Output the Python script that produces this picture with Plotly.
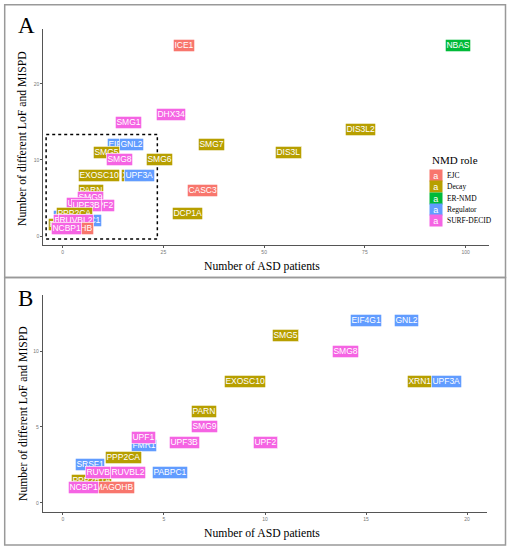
import plotly.graph_objects as go

# genes, NMD role, number of ASD patients, number of different LoF and MISPD
genes = ["ICE1", "NBAS", "DHX34", "SMG1", "SMG7", "DIS3L2", "DIS3L", "CASC3", "DCP1A", "SMG6",
         "EIF4G1", "GNL2", "SMG5", "SMG8", "EXOSC10", "XRN1", "UPF3A", "PARN", "SMG9",
         "FMR1", "UPF1", "UPF2", "UPF3B", "SRSF1", "PPP2CA", "PABPC1", "PPP2R1A",
         "RUVBL1", "RUVBL2", "MAGOHB", "NCBP1"]
roles = ["EJC", "ER-NMD", "SURF-DECID", "SURF-DECID", "Decay", "Decay", "Decay", "EJC", "Decay", "Decay",
         "Regulator", "Regulator", "Decay", "SURF-DECID", "Decay", "Decay", "Regulator", "Decay", "SURF-DECID",
         "Regulator", "SURF-DECID", "SURF-DECID", "SURF-DECID", "Regulator", "Decay", "Regulator", "Decay",
         "SURF-DECID", "SURF-DECID", "EJC", "SURF-DECID"]
patients = [30, 98, 27, 16.3, 37, 74, 56, 34.6, 31, 24,
            15, 17, 11, 14, 9, 17.65, 19, 7, 7,
            4, 4, 10, 6, 1.32, 3, 5.31, 1.39,
            2, 3.2, 2.57, 1]
variants = [25, 25, 16, 14.9, 12, 14, 11, 6, 3, 10,
            12, 12, 11, 10, 8, 8, 8, 6, 5,
            3.78, 4.29, 4, 4, 2.53, 3, 2, 1.5,
            2, 2, 1, 1]

role_names = ["EJC", "Decay", "ER-NMD", "Regulator", "SURF-DECID"]
role_colors = {"EJC": "#F8766D", "Decay": "#B79F00", "ER-NMD": "#00BA38",
               "Regulator": "#619CFF", "SURF-DECID": "#F564E3"}

W, H = 511, 550
def px(x):
    return x / W
def py(y):
    return 1 - y / H

serif = "Liberation Serif"
sans = "Liberation Sans"

fig = go.Figure()
fig.add_trace(go.Scatter(x=patients, y=variants, mode="markers", marker=dict(opacity=0),
                         text=genes, hoverinfo="text", xaxis="x", yaxis="y"))
bx = [p for p, v in zip(patients, variants) if p <= 20.5 and v <= 13.5]
by = [v for p, v in zip(patients, variants) if p <= 20.5 and v <= 13.5]
fig.add_trace(go.Scatter(x=bx, y=by, mode="markers", marker=dict(opacity=0),
                         hoverinfo="skip", xaxis="x2", yaxis="y2"))

ann = []
def label(g, r, xv, yv, xr, yr):
    return dict(text=g, x=xv, y=yv, xref=xr, yref=yr, showarrow=False,
                xanchor="center", yanchor="middle", bgcolor=role_colors[r],
                bordercolor="white", borderwidth=0.6, borderpad=0.8,
                font=dict(family=sans, size=8.5, color="white"))

for g, r, xv, yv in zip(genes, roles, patients, variants):
    ann.append(label(g, r, xv, yv, "x", "y"))
for g, r, xv, yv in zip(genes, roles, patients, variants):
    if xv <= 20.5 and yv <= 13.5:
        ann.append(label(g, r, xv, yv, "x2", "y2"))

def ptext(text, x, y, size, xanchor="center", angle=0, family=serif):
    return dict(text=text, x=px(x), y=py(y), xref="paper", yref="paper", showarrow=False,
                xanchor=xanchor, yanchor="middle", textangle=angle,
                font=dict(family=family, size=size, color="black"))

# panel letters and axis titles
ann.append(ptext("A", 16, 26, 23, xanchor="left"))
ann.append(ptext("B", 16, 298, 23, xanchor="left"))
for yx, yy in [(266, 139), (533, 414)]:
    ann.append(ptext("Number of ASD patients", 262, yx, 11.7))
    ann.append(ptext("Number of different LoF and MISPD", 23, yy, 11.7, angle=-90))

# legend
ann.append(ptext("NMD role", 430, 160, 11, xanchor="left"))
for i, r in enumerate(role_names):
    yc = 175.7 + i * 11.25
    ann.append(dict(text="a", x=px(436), y=py(yc), xref="paper", yref="paper", showarrow=False,
                    xanchor="center", yanchor="middle",
                    width=11.5, height=11, bgcolor=role_colors[r], borderpad=0,
                    font=dict(family=sans, size=9, color="white")))
    ann.append(ptext(r, 445, yc, 7.5, xanchor="left"))

shapes = [
    dict(type="rect", xref="x", yref="y", x0=-4.1, x1=23.5, y0=-0.4, y1=13.35,
         line=dict(color="black", width=1.5, dash="dot")),
    dict(type="rect", xref="paper", yref="paper", x0=px(4.7), x1=px(505.5), y0=py(277.5), y1=py(4.7),
         line=dict(color="#999999", width=1.5)),
    dict(type="rect", xref="paper", yref="paper", x0=px(4.7), x1=px(505.5), y0=py(545), y1=py(277.5),
         line=dict(color="#999999", width=1.5)),
]

axis_style = dict(showline=True, linecolor="#555555", linewidth=1, showgrid=False, zeroline=False,
                  ticks="outside", ticklen=2, tickcolor="#555555",
                  tickfont=dict(family=sans, size=5, color="#777777"))

fig.update_layout(
    width=W, height=H, margin=dict(l=0, r=0, t=0, b=0),
    plot_bgcolor="white", paper_bgcolor="white", showlegend=False,
    xaxis=dict(axis_style, domain=[px(43.3), px(489)], range=[-4.8, 105.8],
               tickvals=[0, 25, 50, 75, 100], anchor="y"),
    yaxis=dict(axis_style, domain=[py(245), py(29)], range=[-1.18, 27.2],
               tickvals=[0, 10, 20], anchor="x"),
    xaxis2=dict(axis_style, domain=[px(42.7), px(487.3)], range=[-1, 21],
                tickvals=[0, 5, 10, 15, 20], anchor="y2"),
    yaxis2=dict(axis_style, domain=[py(512.3), py(295)], range=[-0.63, 13.7],
                tickvals=[0, 5, 10], anchor="x2"),
    annotations=ann, shapes=shapes,
)

fig.write_html("out.html", config={"displayModeBar": False},
               post_script="document.body.style.margin='0';")
